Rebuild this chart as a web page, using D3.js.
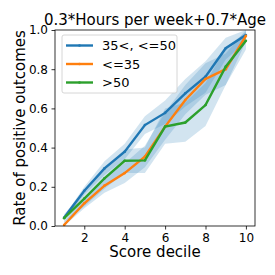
<!DOCTYPE html>
<html>
<head>
<meta charset="utf-8">
<script src="https://cdn.jsdelivr.net/npm/d3@7"></script>
<style>
  body { margin: 0; background: #fff; }
  text { font-family: "DejaVu Sans", sans-serif; fill: #000; }
</style>
</head>
<body>
<div id="chart"></div>
<script>
// score deciles
var deciles = [1, 2, 3, 4, 5, 6, 7, 8, 9, 10];
var groups = ["35<, <=50", "<=35", ">50"];
// rate of positive outcomes per group
var midValues = [0.042, 0.18, 0.294, 0.379, 0.515, 0.577, 0.677, 0.762, 0.907, 0.974];
var lowValues = [0.005, 0.116, 0.206, 0.27, 0.354, 0.507, 0.643, 0.75, 0.80, 0.97];
var highValues = [0.04, 0.14, 0.243, 0.333, 0.335, 0.507, 0.528, 0.617, 0.813, 0.945];
// confidence bands (lower / upper)
var midLo = [0.03, 0.16, 0.26, 0.34, 0.47, 0.52, 0.61, 0.68, 0.85, 0.94];
var midHi = [0.05, 0.20, 0.33, 0.42, 0.56, 0.64, 0.75, 0.84, 0.96, 1.0];
var lowLo = [0.0, 0.09, 0.17, 0.22, 0.30, 0.44, 0.57, 0.67, 0.72, 0.94];
var lowHi = [0.02, 0.14, 0.25, 0.32, 0.41, 0.58, 0.72, 0.83, 0.88, 1.0];
var highLo = [0.02, 0.10, 0.19, 0.27, 0.27, 0.42, 0.43, 0.51, 0.72, 0.90];
var highHi = [0.06, 0.18, 0.29, 0.39, 0.40, 0.60, 0.63, 0.73, 0.91, 0.99];
var xTicks = [2, 4, 6, 8, 10];
var yTicks = [0, 0.2, 0.4, 0.6, 0.8, 1.0];

var series = [
  {name: groups[0], values: midValues, lo: midLo, hi: midHi, color: "#1f77b4"},
  {name: groups[1], values: lowValues, lo: lowLo, hi: lowHi, color: "#ff7f0e"},
  {name: groups[2], values: highValues, lo: highLo, hi: highHi, color: "#2ca02c"}
];

var width = 275, height = 275;
var margin = {top: 30, right: 20, bottom: 49, left: 55};

var svg = d3.select("#chart")
  .append("svg")
  .attr("width", width)
  .attr("height", height);

var x = d3.scaleLinear()
  .domain([0.55, 10.45])
  .range([margin.left, width - margin.right]);
var y = d3.scaleLinear()
  .domain([0, 1])
  .range([height - margin.bottom, margin.top]);

var plot = svg.append("g");

// bands
var area = d3.area()
  .x(function (d) { return x(d.x); })
  .y0(function (d) { return y(d.lo); })
  .y1(function (d) { return y(d.hi); });

series.forEach(function (s) {
  var pts = deciles.map(function (dx, i) { return {x: dx, lo: s.lo[i], hi: s.hi[i]}; });
  plot.append("path")
    .attr("d", area(pts))
    .attr("fill", "#1f77b4")
    .attr("fill-opacity", 0.2);
});

// lines
var line = d3.line()
  .x(function (d) { return x(d.x); })
  .y(function (d) { return y(d.v); });

series.forEach(function (s) {
  var pts = deciles.map(function (dx, i) { return {x: dx, v: s.values[i]}; });
  plot.append("path")
    .attr("d", line(pts))
    .attr("fill", "none")
    .attr("stroke", s.color)
    .attr("stroke-width", 2.4);
  plot.selectAll(null)
    .data(pts)
    .enter()
    .append("circle")
    .attr("cx", function (d) { return x(d.x); })
    .attr("cy", function (d) { return y(d.v); })
    .attr("r", 1.3)
    .attr("fill", s.color);
});

// axes
var xAxis = svg.append("g")
  .attr("transform", "translate(0," + (height - margin.bottom) + ")")
  .call(d3.axisBottom(x).tickValues(xTicks).tickSize(3.5).tickPadding(3.5).tickFormat(d3.format("d")));
var yAxis = svg.append("g")
  .attr("transform", "translate(" + margin.left + ",0)")
  .call(d3.axisLeft(y).tickValues(yTicks).tickSize(3.5).tickPadding(3.5).tickFormat(d3.format(".1f")));
[xAxis, yAxis].forEach(function (a) {
  a.select(".domain").remove();
  a.selectAll("line").attr("stroke", "#000").attr("stroke-width", 0.8);
  a.selectAll("text").style("font-size", "12px").style("font-family", "DejaVu Sans, sans-serif");
});

// frame
svg.append("rect")
  .attr("x", margin.left)
  .attr("y", margin.top)
  .attr("width", width - margin.left - margin.right)
  .attr("height", height - margin.top - margin.bottom)
  .attr("fill", "none")
  .attr("stroke", "#000")
  .attr("stroke-width", 0.8);

// title and labels
svg.append("text")
  .attr("x", (margin.left + width - margin.right) / 2)
  .attr("y", 25)
  .attr("text-anchor", "middle")
  .style("font-size", "15px")
  .text("0.3*Hours per week+0.7*Age");
svg.append("text")
  .attr("x", (margin.left + width - margin.right) / 2)
  .attr("y", 257)
  .attr("text-anchor", "middle")
  .style("font-size", "15px")
  .text("Score decile");
svg.append("text")
  .attr("transform", "translate(25," + ((margin.top + height - margin.bottom) / 2) + ") rotate(-90)")
  .attr("text-anchor", "middle")
  .style("font-size", "15px")
  .text("Rate of positive outcomes");

// legend
var legend = svg.append("g").attr("transform", "translate(62,35)");
legend.append("rect")
  .attr("width", 115)
  .attr("height", 58)
  .attr("rx", 2)
  .attr("fill", "#fff")
  .attr("fill-opacity", 0.8)
  .attr("stroke", "#ccc")
  .attr("stroke-width", 0.8);
var item = legend.selectAll(".item")
  .data(series)
  .enter()
  .append("g")
  .attr("transform", function (d, i) { return "translate(0," + (10.5 + i * 18.5) + ")"; });
item.append("line")
  .attr("x1", 4).attr("x2", 31)
  .attr("stroke", function (d) { return d.color; })
  .attr("stroke-width", 2.4);
item.append("circle")
  .attr("cx", 17.5).attr("r", 1.3)
  .attr("fill", function (d) { return d.color; });
item.append("text")
  .attr("x", 40)
  .attr("y", 4.5)
  .style("font-size", "13px")
  .text(function (d) { return d.name; });
</script>
</body>
</html>
